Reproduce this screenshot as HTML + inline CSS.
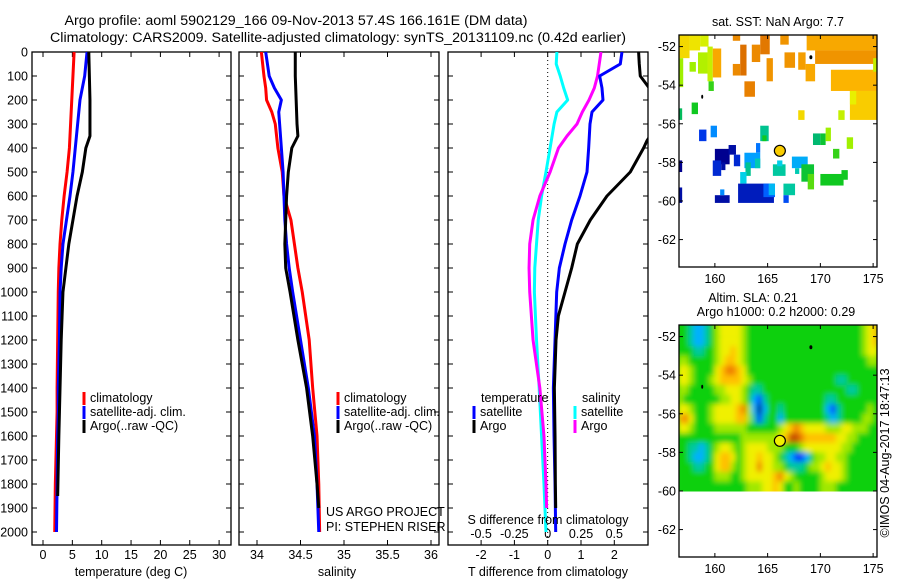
<!DOCTYPE html>
<html><head><meta charset="utf-8"><style>
html,body{margin:0;padding:0;background:#fff}
svg{display:block;font-family:"Liberation Sans",sans-serif;font-size:12.5px}
</style></head><body>
<svg id="fig" width="900" height="580" viewBox="0 0 900 580">
<defs>
<clipPath id="c1"><rect x="32" y="52" width="199" height="493"/></clipPath>
<clipPath id="c2"><rect x="239" y="52" width="200" height="493"/></clipPath>
<clipPath id="c3"><rect x="448" y="52" width="200" height="493"/></clipPath>
<clipPath id="cm1"><rect x="679" y="35" width="198" height="232"/></clipPath>
<clipPath id="cm2"><rect x="679" y="325" width="198" height="166.5"/></clipPath>
<filter id="blur" x="-5%" y="-5%" width="110%" height="110%"><feGaussianBlur stdDeviation="2.6"/></filter>
</defs>
<text x="296" y="25" text-anchor="middle" textLength="463" lengthAdjust="spacingAndGlyphs" style="font-size:13.5px">Argo profile: aoml 5902129_166 09-Nov-2013 57.4S 166.161E (DM data)</text>
<text x="338" y="42" text-anchor="middle" textLength="576" lengthAdjust="spacingAndGlyphs" style="font-size:13.5px">Climatology: CARS2009. Satellite-adjusted climatology: synTS_20131109.nc (0.42d earlier)</text>
<g id="p1"></g>
<g id="p2"></g>
<g id="p3"></g>
<g id="m1"></g>
<g id="m2"></g>
</svg>
<script>
// ---------- profile data ----------
const tDepth = [0,100,200,300,350,400,500,600,700,800,900,1000,1200,1400,1500,1600,1800,2000];
const tClim  = [5.3,5.1,4.9,4.7,4.6,4.5,4.1,3.6,3.2,2.9,2.7,2.6,2.5,2.4,2.4,2.3,2.1,2.0];
const tSat   = [7.5,7.1,6.3,5.9,5.7,5.5,5.1,4.6,4.0,3.4,3.1,2.9,2.8,2.6,2.6,2.5,2.4,2.3];
const tArgoDepth = [0,100,200,300,350,400,500,600,700,800,900,1000,1200,1400,1500,1600,1850];
const tArgo  = [7.8,7.9,8.0,8.0,8.0,7.3,6.7,5.8,5.1,4.4,3.9,3.4,3.1,2.9,2.8,2.7,2.5];
const sDepth = [0,100,150,200,250,300,400,500,600,700,800,900,1000,1200,1400,1600,1800,2000];
const sClim  = [34.05,34.08,34.10,34.11,34.17,34.21,34.24,34.29,34.31,34.39,34.43,34.47,34.52,34.60,34.64,34.69,34.71,34.72];
const sSat   = [34.10,34.14,34.20,34.28,34.25,34.26,34.28,34.30,34.31,34.32,34.34,34.37,34.41,34.50,34.59,34.66,34.69,34.71];
const sArgoDepth = [0,100,200,300,350,400,500,600,700,800,900,1000,1200,1400,1600,1800,1900];
const sArgo  = [34.44,34.44,34.45,34.46,34.47,34.40,34.36,34.34,34.33,34.32,34.33,34.38,34.47,34.57,34.64,34.69,34.71];
const dDepth = [0,50,100,150,200,250,300,400,500,600,700,800,900,1000,1200,1400,1600,1800,2000];
const dTSat  = [2.23,2.18,1.56,1.63,1.66,1.33,1.27,1.23,1.18,0.97,0.72,0.52,0.35,0.27,0.22,0.17,0.19,0.22,0.24];
const dTArgoDepth = [0,50,100,150,200,300,370,400,450,500,600,700,800,900,1000,1100,1200,1400,1600,1800,1900];
const dTArgo = [2.73,2.75,2.78,3.05,3.3,3.3,2.98,2.88,2.68,2.48,1.78,1.28,0.89,0.72,0.52,0.32,0.25,0.20,0.22,0.23,0.24];
const dSSat  = [0.069,0.064,0.094,0.12,0.15,0.069,0.048,0.018,-0.013,-0.046,-0.071,-0.084,-0.097,-0.10,-0.084,-0.064,-0.046,-0.028,-0.013];
const dSArgoDepth = [0,100,150,200,250,300,350,400,500,600,700,800,900,1000,1200,1400,1600,1800,1900];
const dSArgo = [0.40,0.374,0.35,0.31,0.26,0.22,0.145,0.081,0.018,-0.059,-0.11,-0.135,-0.14,-0.135,-0.11,-0.059,-0.028,-0.013,-0.008];
const depthTicks = [0,100,200,300,400,500,600,700,800,900,1000,1100,1200,1300,1400,1500,1600,1700,1800,1900,2000];
const tTicks = [0,5,10,15,20,25,30];
const sTicks = [34,34.5,35,35.5,36];
const dTTicks = [-2,-1,0,1,2];
const dSTicks = [-0.5,-0.25,0,0.25,0.5];
// ---------- map data ----------
const lonTicks = [160,165,170,175];
const latTicks = [52,54,56,58,60,62];
const argoLon = 166.16, argoLat = 57.4, argoSST = 7.7;
// SST patches: lon0, lon1, lat0, lat1 (deg S), SST value
const sstPatches = [
[156.6,157.6,51.4,52.6,7.6],[157.6,158.6,51.4,52.2,7.5],[158.6,159.4,51.4,52.0,7.3],[156.6,157.0,52.6,54.1,7.0],
[157.6,158.2,52.8,53.3,7.0],[158.4,159.3,52.3,53.4,7.1],[159.3,159.8,52.0,53.8,7.2],[159.4,159.9,53.8,54.3,6.7],
[159.8,160.6,52.1,53.6,8.2],[161.7,162.4,51.4,51.7,8.5],[162.4,163.0,51.9,53.5,8.8],[161.7,162.4,52.9,53.5,8.5],
[162.8,163.8,53.8,54.6,8.6],[163.5,164.3,51.9,52.8,8.5],[164.3,165.2,51.4,52.4,8.7],[164.9,165.5,52.6,53.8,8.4],
[166.2,167.0,51.4,51.9,8.4],[166.6,167.6,52.3,53.1,8.4],[167.9,168.6,52.3,53.2,8.3],[168.6,169.5,52.9,53.8,8.2],
[168.7,175.4,51.4,52.2,8.2],[169.5,175.4,52.2,52.9,8.4],[171.0,175.4,53.2,54.3,8.0],[172.8,175.4,54.3,55.8,7.7],
[175.0,175.4,52.6,53.3,7.2],[167.9,168.5,55.3,55.8,7.6],[171.7,172.3,55.3,55.8,7.2],[172.8,173.4,54.3,55.0,7.4],
[157.8,158.4,54.9,55.5,6.6],[156.6,156.9,55.2,55.8,6.3],[158.5,159.2,56.3,56.9,4.4],[159.6,160.2,56.1,56.7,5.0],
[164.3,165.1,56.1,56.9,6.0],[164.5,164.9,56.6,56.9,6.6],[160.0,161.4,57.3,58.1,4.0],[161.3,162.0,57.1,57.6,4.1],
[161.8,162.4,57.6,58.2,4.3],[159.8,160.6,57.9,58.7,4.3],[160.6,161.0,58.0,58.4,4.1],[163.9,164.3,57.0,57.5,4.9],
[162.8,164.3,57.5,58.3,5.1],[163.8,164.3,57.8,58.3,5.8],[162.9,163.4,58.0,58.7,6.0],[162.4,163.0,58.5,59.1,5.5],
[162.2,165.6,59.1,60.1,4.2],[164.6,165.7,59.1,59.8,4.8],[165.1,165.7,59.1,59.7,5.3],[160.0,161.4,59.7,60.1,4.1],
[160.5,160.9,59.4,59.7,5.0],[156.6,156.9,57.9,58.5,4.0],[156.6,156.9,59.3,60.1,4.1],[165.5,166.7,58.1,58.7,5.9],
[165.9,166.4,57.9,58.2,5.5],[166.5,167.6,59.1,59.7,5.9],[166.5,167.0,59.7,60.1,4.6],[167.3,168.8,57.7,58.3,5.2],
[167.6,168.0,58.3,58.6,5.8],[168.2,169.4,58.1,59.0,6.5],[168.8,169.4,58.6,59.4,6.8],[169.3,170.0,56.5,57.1,6.2],
[170.0,170.5,56.5,57.1,6.5],[170.5,171.0,56.2,56.9,7.0],[170.0,172.2,58.6,59.2,6.6],[171.2,171.8,57.3,57.8,6.7],
[172.0,172.6,58.4,58.9,6.6],[172.5,173.1,56.7,57.3,7.0]];
// SLA grid: rows from 51.5S step 0.5, cols from 156.5E step 0.5; digit = SLA class (0 low .. 9 high)
const slaLat0 = 51.5, slaLon0 = 156.5, slaStep = 0.5;
const slaRows = [
"44322345666654444444444444444444444567",
"44322345666654444444444444444444444567",
"44433445667654444444444444444444444566",
"55444445677654444444444444444444444455",
"66544446788764444444444444444444444444",
"66544456777765444444444444444433444444",
"55444445566654334444444444444444334444",
"54444444556654213444444444443344444444",
"66544456666785202443444444442134444454",
"78644456666775313442444444443234444554",
"66544445555554444445678766665556655544",
"44444444444455555556799877777766554444",
"44332345665456666555444566666665544444",
"44322346776456676654321124556655444444",
"44433446775456686655433345567665444444",
"44444445554456666678654444456665444444",
"44444444444445556676445444455544444444"];
const slaColors = ["#000090","#0040ff","#00b0ff","#00c8a0","#10d010","#a0e800","#f0f000","#ffc000","#f08000","#c85000"];

const NS = "http://www.w3.org/2000/svg";
function mk(parent, tag, attrs, text){const e=document.createElementNS(NS,tag);for(const k in attrs)e.setAttribute(k,attrs[k]);if(text!==undefined)e.textContent=text;parent.appendChild(e);return e;}
const yD = d => 52 + d*0.24;
function linePts(depths, vals, xf){let p=[];for(let i=0;i<vals.length;i++){p.push(xf(vals[i]).toFixed(2)+","+yD(depths[i]).toFixed(2));}return p.join(" ");}
function frame(g,x0,x1,ticksX,xf,labels,name){
  const r=mk(g,"rect",{x:x0,y:52,width:x1-x0,height:493,fill:"none",stroke:"#000","stroke-width":1.3});
  
  
  depthTicks.forEach(d=>{mk(g,"line",{x1:x0,x2:x0+5,y1:yD(d),y2:yD(d),stroke:"#000"});mk(g,"line",{x1:x1-5,x2:x1,y1:yD(d),y2:yD(d),stroke:"#000"});});
  ticksX.forEach((v,i)=>{const x=xf(v);mk(g,"line",{x1:x,x2:x,y1:545,y2:540,stroke:"#000"});mk(g,"line",{x1:x,x2:x,y1:52,y2:57,stroke:"#000"});
    if(labels){const t=mk(g,"text",{x:x,y:559,"text-anchor":"middle"},labels[i]);}});
}
function series(g,clip,depths,vals,xf,color,w,name){
  const p=mk(g,"polyline",{points:linePts(depths,vals,xf),fill:"none",stroke:color,"stroke-width":w,"stroke-linejoin":"round","clip-path":"url(#"+clip+")"});
  
  
}
function legend(g,x,y,color,label,name){
  mk(g,"rect",{x:x-1.5,y:y-10,width:3,height:13,fill:color});
  const t=mk(g,"text",{x:x+6,y:y},label);
  
  
}
// ---- Panel 1 ----
const g1=document.getElementById("p1");
const xT=t=>43+t*5.87;
frame(g1,32,231,tTicks,xT,tTicks.map(String),"temperature");
depthTicks.forEach(d=>{const t=mk(g1,"text",{x:28,y:yD(d)+4.5,"text-anchor":"end"},String(d));});
series(g1,"c1",tDepth,tClim,xT,"#ff0000",3,"temp-climatology-line");
series(g1,"c1",tDepth,tSat,xT,"#0000ff",3,"temp-satellite-line");
series(g1,"c1",tArgoDepth,tArgo,xT,"#000",3,"temp-argo-line");
legend(g1,84,402,"#ff0000","climatology","legend-climatology");
legend(g1,84,416,"#0000ff","satellite-adj. clim.","legend-satellite");
legend(g1,84,430,"#000","Argo(..raw -QC)","legend-argo");
(function(){const t=mk(g1,"text",{x:131,y:576,"text-anchor":"middle"},"temperature (deg C)");})();
// ---- Panel 2 ----
const g2=document.getElementById("p2");
const xS=s=>257+(s-34)*87;
frame(g2,239,439,sTicks,xS,sTicks.map(String),"salinity");
series(g2,"c2",sDepth,sClim,xS,"#ff0000",3,"sal-climatology-line");
series(g2,"c2",sDepth,sSat,xS,"#0000ff",3,"sal-satellite-line");
series(g2,"c2",sArgoDepth,sArgo,xS,"#000",3,"sal-argo-line");
legend(g2,338,402,"#ff0000","climatology","legend-climatology-2");
legend(g2,338,416,"#0000ff","satellite-adj. clim.","legend-satellite-2");
legend(g2,338,430,"#000","Argo(..raw -QC)","legend-argo-2");
(function(){let t=mk(g2,"text",{x:326,y:516},"US ARGO PROJECT");
t=mk(g2,"text",{x:326,y:531},"PI: STEPHEN RISER");
t=mk(g2,"text",{x:337,y:576,"text-anchor":"middle"},"salinity");})();
// ---- Panel 3 ----
const g3=document.getElementById("p3");
const xDT=v=>547.7+v*33.3;
const xDS=v=>547.7+v*4*33.3;
frame(g3,448,648,dTTicks,xDT,dTTicks.map(String),"difference");
mk(g3,"line",{x1:547.7,x2:547.7,y1:52,y2:545,stroke:"#000","stroke-dasharray":"1,3"});
dSTicks.forEach(v=>{const t=mk(g3,"text",{x:xDS(v),y:538,"text-anchor":"middle"},String(v));});
series(g3,"c3",dDepth,dSSat,xDS,"#00ffff",3,"s-diff-satellite-line");
series(g3,"c3",dSArgoDepth,dSArgo,xDS,"#ff00ff",3,"s-diff-argo-line");
series(g3,"c3",dDepth,dTSat,xDT,"#0000ff",3,"t-diff-satellite-line");
series(g3,"c3",dTArgoDepth,dTArgo,xDT,"#000",3,"t-diff-argo-line");
(function(){let t=mk(g3,"text",{x:481,y:402},"temperature");
t=mk(g3,"text",{x:582,y:402},"salinity");})();
legend(g3,474,416,"#0000ff","satellite","legend-t-satellite");
legend(g3,474,430,"#000","Argo","legend-t-argo");
legend(g3,575,416,"#00ffff","satellite","legend-s-satellite");
legend(g3,575,430,"#ff00ff","Argo","legend-s-argo");
(function(){let t=mk(g3,"text",{x:548,y:524,"text-anchor":"middle"},"S difference from climatology");
t=mk(g3,"text",{x:548,y:576,"text-anchor":"middle"},"T difference from climatology");})();
// ---- Maps ----
const mx=lon=>679+(lon-156.6)*10.55;
const sstStops=[[4.0,[0,0,143]],[4.4,[0,56,232]],[4.8,[0,96,255]],[5.1,[0,160,255]],[5.5,[0,208,232]],[5.9,[0,200,160]],[6.2,[0,184,112]],[6.6,[16,200,32]],[7.0,[160,240,0]],[7.4,[232,240,0]],[7.8,[255,192,0]],[8.2,[248,168,0]],[8.6,[232,128,0]],[9.0,[208,96,0]]];
function sstColor(v){if(v<=sstStops[0][0])return "rgb("+sstStops[0][1]+")";for(let i=1;i<sstStops.length;i++){if(v<=sstStops[i][0]){const a=sstStops[i-1],b=sstStops[i],f=(v-a[0])/(b[0]-a[0]);return "rgb("+a[1].map((c,j)=>Math.round(c+(b[1][j]-c)*f)).join(",")+")";}}return "rgb("+sstStops[sstStops.length-1][1]+")";}
function mapAxes(g,y0,my,name){
  const r=mk(g,"rect",{x:679,y:y0,width:198,height:232,fill:"none",stroke:"#000","stroke-width":1.3});
  
  
  lonTicks.forEach(l=>{const x=mx(l);mk(g,"line",{x1:x,x2:x,y1:y0,y2:y0+4,stroke:"#000"});mk(g,"line",{x1:x,x2:x,y1:y0+232,y2:y0+228,stroke:"#000"});
    const t=mk(g,"text",{x:x,y:y0+248,"text-anchor":"middle"},String(l));});
  latTicks.forEach(l=>{const y=my(l);mk(g,"line",{x1:679,x2:683,y1:y,y2:y,stroke:"#000"});mk(g,"line",{x1:873,x2:877,y1:y,y2:y,stroke:"#000"});
    const t=mk(g,"text",{x:676,y:y+4.5,"text-anchor":"end"},"-"+l);});
}
function blackMarks(g,my){
  mk(g,"ellipse",{cx:mx(169.1),cy:my(52.55),rx:1.5,ry:2,fill:"#000"});
  mk(g,"ellipse",{cx:mx(158.8),cy:my(54.6),rx:1,ry:2,fill:"#000"});
}
// SST map
const gm1=document.getElementById("m1");
const my1=lat=>35+(lat-51.4)*19.3;
const pg=mk(gm1,"g",{"clip-path":"url(#cm1)"});
sstPatches.forEach(p=>{const r=mk(pg,"rect",{x:mx(p[0]),y:my1(p[2]),width:mx(p[1])-mx(p[0]),height:my1(p[3])-my1(p[2]),fill:sstColor(p[4])});
  
  });
blackMarks(gm1,my1);
(function(){const c=mk(gm1,"circle",{cx:mx(argoLon),cy:my1(argoLat),r:5.5,fill:sstColor(argoSST),stroke:"#000","stroke-width":1.2});})();
mapAxes(gm1,35,my1,"sst-map");
(function(){const t=mk(gm1,"text",{x:778,y:26,"text-anchor":"middle"},"sat. SST: NaN Argo: 7.7");})();
// SLA map
const gm2=document.getElementById("m2");
const my2=lat=>325+(lat-51.4)*19.3;
const cg=mk(gm2,"g",{"clip-path":"url(#cm2)"});
mk(cg,"rect",{x:679,y:325,width:198,height:167,fill:slaColors[4]});
const bg=mk(cg,"g",{filter:"url(#blur)"});
slaRows.forEach((row,ri)=>{for(let ci=0;ci<row.length;ci++){const lon=slaLon0+ci*slaStep,lat=slaLat0+ri*slaStep;
  const top=ri===0?my2(51.0):my2(lat), bot=ri===slaRows.length-1?my2(60.6):my2(lat+slaStep);
  const r=mk(bg,"rect",{x:mx(lon)-0.3,y:top,width:mx(lon+slaStep)-mx(lon)+0.6,height:bot-top+0.3,fill:slaColors[+row[ci]]});
  
  }});
blackMarks(gm2,my2);
(function(){const c=mk(gm2,"circle",{cx:mx(argoLon),cy:my2(argoLat),r:5.5,fill:"#f0f000",stroke:"#000","stroke-width":1.2});})();
mapAxes(gm2,325,my2,"sla-map");
(function(){let t=mk(gm2,"text",{x:753,y:302,"text-anchor":"middle"},"Altim. SLA: 0.21");
t=mk(gm2,"text",{x:776,y:316,"text-anchor":"middle"},"Argo h1000: 0.2 h2000: 0.29");
t=mk(gm2,"text",{x:0,y:0,"text-anchor":"middle",transform:"translate(889,453) rotate(-90)"},"©IMOS 04-Aug-2017 18:47:13");})();
</script>
</body></html>
